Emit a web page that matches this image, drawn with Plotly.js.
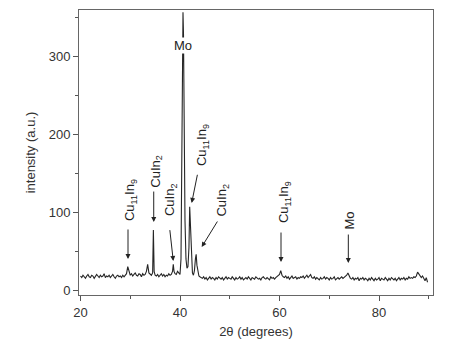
<!DOCTYPE html>
<html>
<head>
<meta charset="utf-8">
<script src="https://cdn.plot.ly/plotly-3.0.1.min.js"></script>
<style>html,body{margin:0;padding:0;background:#fff;}#chart{width:459px;height:352px;}</style>
</head>
<body>
<div id="chart"></div>
<script>
// 2θ positions (degrees)
const twoTheta = [
  20,20.25,20.5,20.75,21,21.25,21.5,21.75,22,22.25,
  22.5,22.75,23,23.25,23.5,23.75,24,24.25,24.5,24.75,
  25,25.25,25.5,25.75,26,26.25,26.5,26.75,27,27.25,
  27.5,27.75,28,28.25,28.5,28.75,29,29.25,29.5,29.75,
  30,30.25,30.5,30.75,31,31.25,31.5,31.75,32,32.25,
  32.5,32.75,33,33.25,33.5,33.75,
  34,34.25,34.5,34.65,34.8,35,35.25,35.5,35.75,36,
  36.25,36.5,36.75,37,37.25,37.5,37.75,38,38.25,38.5,
  38.65,38.8,39,39.25,39.5,39.75,40,40.2,40.35,40.5,
  40.6,40.7,40.85,41,41.2,41.4,41.6,41.8,41.95,42.1,
  42.3,42.5,42.7,42.9,43.1,43.25,43.4,43.6,43.8,44,
  44.25,44.5,44.75,45,45.25,45.5,45.75,46,46.25,46.5,
  46.75,47,47.25,47.5,47.75,48,48.25,48.5,48.75,49,
  49.25,49.5,49.75,50,50.25,50.5,50.75,51,51.25,51.5,
  51.75,52,52.25,52.5,52.75,53,53.25,53.5,53.75,54,
  54.25,54.5,54.75,55,55.25,55.5,55.75,56,56.25,56.5,
  56.75,57,57.25,57.5,57.75,58,58.25,58.5,58.75,59,
  59.25,59.5,59.75,60,60.25,60.5,60.75,61,61.25,61.5,
  61.75,62,62.25,62.5,62.75,63,63.25,63.5,63.75,64,
  64.25,64.5,64.75,65,65.25,65.5,65.75,66,66.25,66.5,
  66.75,67,67.25,67.5,67.75,68,68.25,68.5,68.75,69,
  69.25,69.5,69.75,70,70.25,70.5,70.75,71,71.25,71.5,
  71.75,72,72.25,72.5,72.75,73,73.25,73.5,73.75,74,
  74.25,74.5,74.75,75,75.25,75.5,75.75,76,76.25,76.5,
  76.75,77,77.25,77.5,77.75,78,78.25,78.5,78.75,79,
  79.25,79.5,79.75,80,80.25,80.5,80.75,81,81.25,81.5,
  81.75,82,82.25,82.5,82.75,83,83.25,83.5,83.75,84,
  84.25,84.5,84.75,85,85.25,85.5,85.75,86,86.25,86.5,
  86.75,87,87.25,87.5,87.75,88,88.25,88.5,88.75,89,
  89.25,89.5,89.75
];
// intensity (a.u.)
const intensity = [
  18,16,19,17,15,18,20,17,16,19,
  18,15,17,20,18,16,19,17,18,21,
  16,18,17,19,16,18,20,17,15,18,
  19,17,18,16,19,17,20,21,30,23,
  19,21,18,20,22,19,18,21,20,17,
  21,19,20,24,33,22,
  20,19,22,77,24,19,18,20,17,19,
  21,18,20,17,19,18,21,19,20,24,
  33,24,21,20,24,22,20,40,150,300,
  357,330,200,90,40,28,30,55,107,80,
  35,22,19,25,40,46,32,22,18,17,
  16,15,17,14,16,13,15,17,14,16,
  15,13,16,14,17,15,14,16,13,15,
  17,14,16,15,14,17,15,13,16,14,
  15,17,14,16,13,15,16,14,17,15,
  13,16,15,14,17,16,14,15,13,16,
  17,15,14,16,15,13,17,15,16,14,
  16,17,18,20,25,19,17,16,18,15,
  17,14,16,18,15,16,17,14,16,15,
  17,16,18,15,17,19,16,18,20,16,
  15,17,14,16,15,13,16,14,15,17,
  14,16,15,13,16,14,15,17,13,15,
  16,14,15,17,15,16,18,19,22,17,
  15,14,16,13,15,14,16,12,15,14,
  16,13,15,14,12,15,13,16,14,12,
  15,13,14,16,12,15,14,13,16,14,
  12,15,13,16,14,13,15,12,14,16,
  13,15,14,16,13,15,14,17,15,16,
  15,17,16,18,23,21,19,16,18,14,
  12,16,10
];

// peak labels
const labelText = ['Cu<sub>11</sub>In<sub>9</sub>','CuIn<sub>2</sub>','CuIn<sub>2</sub>','Mo','Cu<sub>11</sub>In<sub>9</sub>','CuIn<sub>2</sub>','Cu<sub>11</sub>In<sub>9</sub>','Mo'];
const labelX = [29.95, 35.1, 37.99, 40.66, 44.42, 48.54, 60.9, 74.07];
const labelY = [115.7, 153, 115.7, 315, 186.4, 115.7, 113, 88.7];
const labelAngle = [-90,-90,-90,0,-90,-90,-90,-90];

// arrows: tip position (data) and tail offset (px)
const arrowX = [29.55, 34.72, 38.65, 42.35, 44.36, 60.3, 73.83];
const arrowY = [39.9, 87.4, 37.3, 111.9, 55.3, 36.0, 34.7];
const arrowDX = [0, 0, -3.6, 6, 16.6, 0, 0];
const arrowDY = [-31, -32, -32.4, -29.7, -27, -31, -30];

const FONT = '"Liberation Sans", Arial, sans-serif';
const annotations = [];
for (let i = 0; i < labelText.length; i++) {
  annotations.push({
    x: labelX[i], y: labelY[i], xref: 'x', yref: 'y',
    text: labelText[i], textangle: labelAngle[i], showarrow: false,
    font: {family: FONT, size: 13, color: '#222'},
    bgcolor: labelAngle[i] === 0 ? '#ffffff' : 'rgba(0,0,0,0)',
    borderpad: 0
  });
}
for (let i = 0; i < arrowX.length; i++) {
  annotations.push({
    x: arrowX[i], y: arrowY[i], xref: 'x', yref: 'y',
    ax: arrowDX[i], ay: arrowDY[i], text: '', showarrow: true,
    arrowhead: 2, arrowsize: 1, arrowwidth: 1, arrowcolor: '#222', standoff: 0
  });
}

const trace = {
  x: twoTheta, y: intensity, type: 'scatter', mode: 'lines',
  line: {color: '#262626', width: 1.1}, hoverinfo: 'skip'
};

const layout = {
  width: 459, height: 352,
  margin: {l: 79, r: 26, t: 10, b: 57},
  paper_bgcolor: '#fff', plot_bgcolor: '#fff',
  showlegend: false,
  font: {family: FONT, size: 13, color: '#333'},
  xaxis: {
    range: [19.7, 90.85], tickvals: [20,40,60,80], ticks: 'outside', ticklen: 5,
    tickcolor: '#555', linecolor: '#666', linewidth: 1, showline: true, mirror: true,
    showgrid: false, zeroline: false,
    minor: {tickvals: [30,50,70,90], ticks: 'outside', ticklen: 3, tickcolor: '#555', showgrid: false},
    tickfont: {size: 13, color: '#333'},
    title: {text: '2θ (degrees)', font: {size: 13, color: '#333'}, standoff: 8}
  },
  yaxis: {
    range: [-6.4, 360], tickvals: [0,100,200,300], ticks: 'outside', ticklen: 5,
    tickcolor: '#555', linecolor: '#666', linewidth: 1, showline: true, mirror: true,
    showgrid: false, zeroline: false,
    minor: {tickvals: [50,150,250,350], ticks: 'outside', ticklen: 3, tickcolor: '#555', showgrid: false},
    tickfont: {size: 13, color: '#333'},
    title: {text: 'intensity (a.u.)', font: {size: 13, color: '#333'}, standoff: 10}
  },
  annotations: annotations
};

Plotly.newPlot('chart', [trace], layout, {staticPlot: true, displayModeBar: false});
</script>
</body>
</html>
